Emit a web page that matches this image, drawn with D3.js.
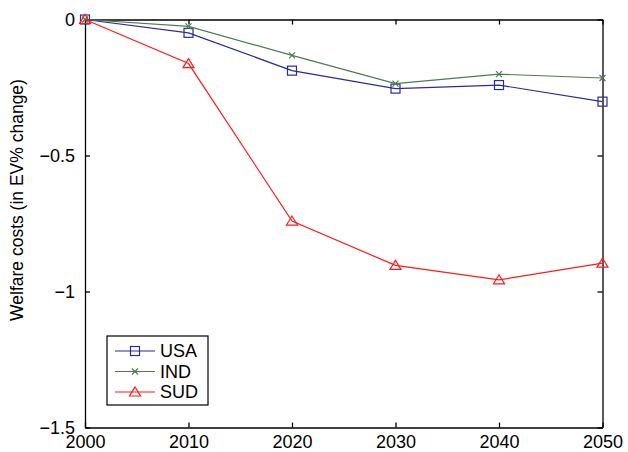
<!DOCTYPE html>
<html>
<head>
<meta charset="utf-8">
<script src="https://cdn.jsdelivr.net/npm/d3@7"></script>
<style>
  body { margin: 0; background: #fff; }
  svg { font-family: "Liberation Sans", Arial, sans-serif; }
</style>
</head>
<body>
<div id="vis"></div>
<script>
// Frame
const FRAME_WIDTH = 628;
const FRAME_HEIGHT = 452;
const MARGINS = {left: 85, right: 25.5, top: 19.5, bottom: 24.5};
const VIS_WIDTH = FRAME_WIDTH - MARGINS.left - MARGINS.right;
const VIS_HEIGHT = FRAME_HEIGHT - MARGINS.top - MARGINS.bottom;

// Data
const years = [2000, 2010, 2020, 2030, 2040, 2050];
const usa = [0, -0.049, -0.188, -0.254, -0.241, -0.302];
const ind = [0, -0.025, -0.132, -0.236, -0.201, -0.215];
const sud = [0, -0.162, -0.741, -0.904, -0.957, -0.896];
const xTicks = [2000, 2010, 2020, 2030, 2040, 2050];
const yTicks = [0, -0.5, -1, -1.5];

const series = [
  {name: "USA", values: usa, color: "#2b2b99", marker: "square"},
  {name: "IND", values: ind, color: "#4d7a55", marker: "x"},
  {name: "SUD", values: sud, color: "#ff1a1a", marker: "triangle"}
];

const FRAME = d3.select("#vis")
  .append("svg")
    .attr("width", FRAME_WIDTH)
    .attr("height", FRAME_HEIGHT);

const X_SCALE = d3.scaleLinear().domain([2000, 2050]).range([0, VIS_WIDTH]);
const Y_SCALE = d3.scaleLinear().domain([-1.5, 0]).range([VIS_HEIGHT, 0]);

const g = FRAME.append("g")
  .attr("transform", "translate(" + MARGINS.left + "," + MARGINS.top + ")");

const fmt = d => (d < 0 ? "\u2212" : "") + Math.abs(d);

// axes with inward ticks (bottom/left labelled, top/right plain)
const xBottom = g.append("g")
  .attr("transform", "translate(0," + VIS_HEIGHT + ")")
  .call(d3.axisBottom(X_SCALE).tickValues(xTicks).tickSizeInner(-5).tickSizeOuter(0).tickPadding(7.5).tickFormat(d3.format("d")));
const xTop = g.append("g")
  .call(d3.axisTop(X_SCALE).tickValues(xTicks).tickSizeInner(-5).tickSizeOuter(0).tickFormat(""));
const yLeft = g.append("g")
  .call(d3.axisLeft(Y_SCALE).tickValues(yTicks).tickSizeInner(-5).tickSizeOuter(0).tickPadding(10).tickFormat(fmt));
const yRight = g.append("g")
  .attr("transform", "translate(" + VIS_WIDTH + ",0)")
  .call(d3.axisRight(Y_SCALE).tickValues(yTicks).tickSizeInner(-5).tickSizeOuter(0).tickFormat(""));

[xBottom, xTop, yLeft, yRight].forEach(a => {
  a.selectAll("path, line").attr("stroke", "#000").attr("stroke-width", 1.3);
  a.selectAll("text").attr("fill", "#000").attr("font-size", "18px")
    .attr("font-family", "'Liberation Sans', Arial, sans-serif");
});
yLeft.selectAll("text").attr("dy", "0.35em");

// y label
FRAME.append("text")
  .attr("transform", "translate(23,200) rotate(-90)")
  .attr("text-anchor", "middle")
  .attr("font-size", "17.5px")
  .attr("fill", "#000")
  .text("Welfare costs (in EV% change)");

function drawMarker(sel, type, color, x, y) {
  if (type === "square") {
    sel.append("rect").attr("x", x - 4.5).attr("y", y - 4.5).attr("width", 9).attr("height", 9)
      .attr("fill", "none").attr("stroke", color).attr("stroke-width", 1.2);
  } else if (type === "x") {
    sel.append("path").attr("d", "M" + (x - 3) + "," + (y - 3) + "L" + (x + 3) + "," + (y + 3) +
      "M" + (x - 3) + "," + (y + 3) + "L" + (x + 3) + "," + (y - 3))
      .attr("stroke", color).attr("stroke-width", 1.2);
  } else {
    sel.append("path").attr("d", "M" + x + "," + (y - 5) + "L" + (x + 5.5) + "," + (y + 4) + "L" + (x - 5.5) + "," + (y + 4) + "Z")
      .attr("fill", "none").attr("stroke", color).attr("stroke-width", 1.2);
  }
}

const line = d3.line()
  .x((d, i) => X_SCALE(years[i]))
  .y(d => Y_SCALE(d));

series.forEach(s => {
  g.append("path")
    .datum(s.values)
    .attr("d", line)
    .attr("fill", "none")
    .attr("stroke", s.color)
    .attr("stroke-width", 1.2);
  s.values.forEach((v, i) => drawMarker(g, s.marker, s.color, X_SCALE(years[i]), Y_SCALE(v)));
});

// legend
const legend = FRAME.append("g").attr("transform", "translate(107,336)");
legend.append("rect").attr("width", 101).attr("height", 69)
  .attr("fill", "#fff").attr("stroke", "#000").attr("stroke-width", 1.2);
series.forEach((s, i) => {
  const y = 15 + i * 20.5;
  legend.append("line").attr("x1", 8).attr("x2", 48).attr("y1", y).attr("y2", y)
    .attr("stroke", s.color).attr("stroke-width", 1.2);
  drawMarker(legend, s.marker, s.color, 28, y);
  legend.append("text").attr("x", 53).attr("y", y).attr("dy", "0.36em")
    .attr("font-size", "18px").attr("fill", "#000").text(s.name);
});
</script>
</body>
</html>
